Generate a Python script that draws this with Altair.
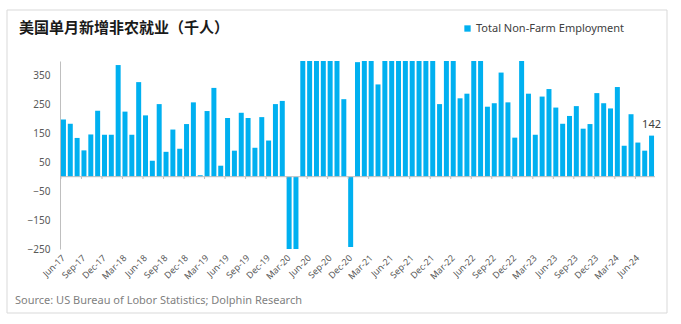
import altair as alt
import pandas as pd

title_text = "美国单月新增非农就业（千人）"
series_name = "Total Non-Farm Employment"
source_text = "Source: US Bureau of Lobor Statistics; Dolphin Research"

months = list(pd.date_range("2017-06-01", periods=87, freq="MS").strftime("%b-%y"))
values = [
    198, 183, 134, 91, 146, 228, 145, 145, 386, 225, 145, 327, 212, 55, 251, 86,
    163, 97, 182, 257, 5, 227, 307, 38, 203, 90, 221, 203, 100, 206, 125, 251,
    262, -250, -250, 400, 400, 400, 400, 400, 400, 268, -243, 396, 400, 400, 319,
    400, 400, 400, 400, 400, 400, 400, 400, 251, 400, 400, 271, 287, 400, 400,
    242, 254, 360, 257, 135, 400, 287, 145, 277, 303, 239, 183, 210, 244, 166,
    182, 289, 254, 236, 310, 107, 216, 118, 90, 142,
]
tick_labels = months[::3]
y_ticks = [-250, -150, -50, 50, 150, 250, 350]

df = pd.DataFrame({"month": months, "value": values, "series": series_name})
last = df.tail(1)
ticks_df = pd.DataFrame({"month": tick_labels, "y0": 0, "y1": -8})

FONT = "Noto Sans"
BAR = "#00B0F0"
GRAY = "#bfbfbf"
LABEL = "#595959"

W, H = 595, 188
PL, PT = 60, 61

x_enc = alt.X(
    "month:N", sort=months, title=None,
    scale=alt.Scale(paddingInner=0.27, paddingOuter=0.14),
    axis=alt.Axis(values=tick_labels, labelAngle=-45, labelAlign="right",
                  labelBaseline="middle", labelFontSize=9, labelColor=LABEL,
                  labelFont=FONT, ticks=False, domain=False, labelPadding=7,
                  grid=False, labelOverlap=False),
)
y_scale = alt.Scale(domain=[-250, 400], nice=False, clamp=True)

bars = alt.Chart(df).mark_bar(clip=True).encode(
    x=x_enc,
    y=alt.Y("value:Q", scale=y_scale, title=None,
            axis=alt.Axis(values=y_ticks, tickCount=20, labelFontSize=10,
                          labelColor=LABEL, labelFont=FONT, ticks=False,
                          domainColor=GRAY, grid=False, labelPadding=10,
                          labelOverlap=False, labelFlush=False)),
    color=alt.Color("series:N", scale=alt.Scale(range=[BAR]),
                    legend=alt.Legend(orient="none", legendX=402, legendY=-38,
                                      title=None, symbolType="square",
                                      symbolSize=40, symbolStrokeWidth=0,
                                      labelFont=FONT, labelFontSize=11,
                                      labelColor="#404040", padding=0,
                                      labelOffset=3)),
)

zero = alt.Chart(pd.DataFrame({"z": [0]})).mark_rule(color=GRAY, strokeWidth=1).encode(
    y=alt.Y("z:Q", scale=y_scale)
)

xticks = alt.Chart(ticks_df).mark_rule(color=GRAY, strokeWidth=1).encode(
    x=alt.X("month:N", sort=months, bandPosition=0),
    y=alt.Y("y0:Q", scale=y_scale),
    y2="y1:Q",
)

last_label = alt.Chart(last).mark_text(
    dy=-11, fontSize=11, font=FONT, color="#404040"
).encode(x=alt.X("month:N", sort=months),
         y=alt.Y("value:Q", scale=y_scale),
         text=alt.Text("value:Q"))

title = alt.Chart(pd.DataFrame({"t": [title_text]})).mark_text(
    align="left", baseline="middle", fontSize=15, fontWeight="bold",
    font="Noto Sans CJK SC", color="#1a1a1a"
).encode(x=alt.value(19 - PL), y=alt.value(28 - PT), text="t:N")

source = alt.Chart(pd.DataFrame({"t": [source_text]})).mark_text(
    align="left", baseline="middle", fontSize=11, font=FONT, color="#7f7f7f"
).encode(x=alt.value(15 - PL), y=alt.value(301 - PT), text="t:N")

border = alt.Chart(pd.DataFrame({"b": [1]})).mark_rect(
    fillOpacity=0, stroke="#d9d9d9", strokeWidth=1
).encode(x=alt.value(7 - PL), x2=alt.value(667 - PL),
         y=alt.value(10 - PT), y2=alt.value(313 - PT))

chart = alt.layer(border, bars, zero, xticks, last_label, title, source).properties(
    width=W, height=H,
    autosize=alt.AutoSizeParams(type="none"),
    padding={"left": PL, "top": PT, "right": 681 - PL - W, "bottom": 324 - PT - H},
    background="white",
).configure_view(stroke=None).configure_axis(labelOverlap=False)

chart.save("out.html", embed_options={"renderer": "svg", "actions": False})
